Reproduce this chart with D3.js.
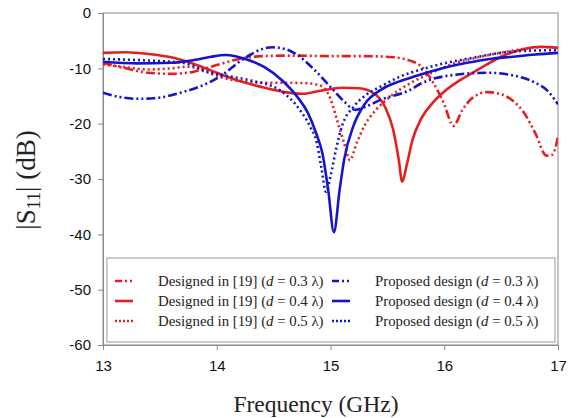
<!DOCTYPE html>
<html><head><meta charset="utf-8">
<script src="https://cdn.jsdelivr.net/npm/d3@7"></script>
<style>body{margin:0;background:#fff;} svg{display:block;}</style>
</head><body><svg id="c" width="576" height="418"></svg>
<script>
// ---- data ----
const xTicks = [13, 14, 15, 16, 17];
const yTicks = [0, -10, -20, -30, -40, -50, -60];

const ref03F = [13.0,13.2,13.4,13.6,13.8,14.0,14.2,14.4,14.7,15.0,15.3,15.55,15.7,15.8,15.9,16.0,16.08,16.16,16.25,16.38,16.5,16.6,16.7,16.8,16.9,16.95,17.0];
const ref03S = [-9.0,-10.0,-10.8,-11.0,-10.6,-9.4,-8.3,-7.8,-7.7,-7.8,-7.8,-8.0,-8.6,-9.7,-12.5,-16.5,-20.4,-17.5,-15.3,-14.3,-14.7,-15.8,-18.0,-21.7,-25.8,-25.6,-22.4];

const ref04F = [13.0,13.2,13.4,13.6,13.8,14.0,14.2,14.4,14.6,14.75,14.9,15.1,15.25,15.38,15.48,15.55,15.6,15.63,15.67,15.72,15.8,15.9,16.0,16.15,16.3,16.5,16.7,16.85,17.0];
const ref04S = [-7.2,-7.1,-7.4,-8.0,-9.2,-10.8,-12.3,-13.4,-14.3,-14.6,-14.1,-13.5,-13.6,-14.5,-17.0,-21.0,-26.5,-30.5,-27.5,-23.0,-19.0,-16.2,-14.2,-12.0,-10.2,-7.9,-6.5,-6.1,-6.3];

const ref05F = [13.0,13.2,13.4,13.6,13.75,13.9,14.05,14.2,14.4,14.6,14.8,14.92,15.0,15.06,15.12,15.17,15.23,15.3,15.4,15.52,15.7,15.9,16.1,16.3,16.6,16.85,17.0];
const ref05S = [-9.3,-9.8,-10.2,-10.0,-9.7,-10.6,-11.7,-12.3,-12.6,-12.6,-12.7,-13.2,-15.5,-19.5,-23.5,-26.6,-23.5,-20.3,-17.5,-15.2,-12.7,-10.7,-9.0,-8.0,-6.8,-6.2,-6.3];

const pro03F = [13.0,13.15,13.3,13.45,13.7,13.85,14.05,14.2,14.3,14.4,14.49,14.6,14.71,14.86,15.01,15.12,15.22,15.3,15.44,15.7,15.8,16.08,16.38,16.67,16.8,16.9,17.0];
const pro03S = [-14.4,-15.2,-15.5,-15.4,-14.3,-13.3,-11.2,-8.8,-7.5,-6.5,-6.2,-6.5,-7.6,-10.3,-13.6,-16.0,-17.5,-17.0,-15.7,-13.9,-12.7,-11.2,-10.8,-11.6,-12.6,-13.9,-16.5];

const pro04F = [13.0,13.3,13.6,13.8,13.95,14.08,14.25,14.42,14.57,14.71,14.8,14.87,14.93,14.98,15.03,15.08,15.12,15.2,15.3,15.45,15.6,15.75,16.0,16.2,16.4,16.6,16.8,17.0];
const pro04S = [-8.8,-9.1,-9.0,-8.5,-7.9,-7.6,-8.3,-9.8,-12.1,-15.2,-18.0,-21.5,-25.5,-32.0,-39.6,-32.0,-26.5,-20.5,-16.5,-13.8,-12.4,-11.4,-9.9,-9.0,-8.3,-7.9,-7.5,-7.2];

const pro05F = [13.0,13.3,13.5,13.7,13.95,14.1,14.3,14.55,14.73,14.82,14.88,14.92,14.96,15.0,15.05,15.1,15.2,15.3,15.45,15.6,15.8,16.0,16.25,16.5,16.75,17.0];
const pro05S = [-8.3,-8.5,-8.7,-9.0,-10.8,-11.4,-12.2,-13.9,-17.5,-20.5,-23.5,-28.0,-32.3,-29.5,-24.5,-20.5,-17.0,-15.0,-13.2,-11.6,-10.2,-9.1,-8.1,-7.2,-6.8,-6.7];

const seriesNames = ["Designed in [19] (", "Designed in [19] (", "Designed in [19] (", "Proposed design (", "Proposed design (", "Proposed design ("];
const seriesD = ["0.3", "0.4", "0.5", "0.3", "0.4", "0.5"];
const seriesColor = ["#e3201f", "#e3201f", "#e3201f", "#1414cc", "#1414cc", "#1414cc"];
const seriesF = [ref03F, ref04F, ref05F, pro03F, pro04F, pro05F];
const seriesS = [ref03S, ref04S, ref05S, pro03S, pro04S, pro05S];

// ---- styles ----
const dashFor = ["9,3,2,3,2,3", null, "2,3", "9,3,2,3,2,3", null, "2,3"];

const svg = d3.select("#c");
const L = 103, R = 558, T = 13, B = 345;
const x = d3.scaleLinear().domain([13, 17]).range([L, R]);
const y = d3.scaleLinear().domain([-60, 0]).range([B, T]);
const grey = "#8a8a8a";

svg.append("defs").append("clipPath").attr("id", "clip")
  .append("rect").attr("x", L).attr("y", T).attr("width", R - L).attr("height", B - T);

// frame
svg.append("rect").attr("x", L).attr("y", T).attr("width", R - L).attr("height", B - T)
  .attr("fill", "none").attr("stroke", grey).attr("stroke-width", 1);

const yAx = svg.append("g").attr("transform", `translate(${L},0)`)
  .call(d3.axisLeft(y).tickValues(yTicks).tickSize(5).tickPadding(7).tickFormat(d => String(d)));
const xAx = svg.append("g").attr("transform", `translate(0,${B})`)
  .call(d3.axisBottom(x).tickValues(xTicks).tickSize(5).tickPadding(10).tickFormat(d => String(d)));
[yAx, xAx].forEach(g => {
  g.selectAll("path,line").attr("stroke", grey);
  g.selectAll("text").attr("font-family", "'Liberation Sans', Arial, sans-serif")
    .attr("font-size", 15).attr("fill", "#111");
});

// legend box
const lg = svg.append("g");
lg.append("rect").attr("x", 107).attr("y", 258).attr("width", 448).attr("height", 84)
  .attr("fill", "#fff").attr("stroke", "#9a9a9a").attr("stroke-width", 1);

// curves
const line = d3.line().x(d => x(d[0])).y(d => y(d[1])).curve(d3.curveMonotoneX);
const plot = svg.append("g").attr("clip-path", "url(#clip)");
seriesF.forEach((F, i) => {
  const pts = F.map((f, j) => [f, seriesS[i][j]]);
  const p = plot.append("path").datum(pts).attr("d", line)
    .attr("fill", "none").attr("stroke", seriesColor[i]).attr("stroke-width", 2.6);
  if (dashFor[i]) p.attr("stroke-dasharray", dashFor[i]);
});

// legend entries
const rowY = [281, 301, 321];
seriesF.forEach((F, i) => {
  const col = i < 3 ? 0 : 1;
  const r = i % 3;
  const sx = col === 0 ? 115 : 332;
  const tx = col === 0 ? 158 : 375;
  const l = lg.append("line").attr("x1", sx).attr("x2", sx + 18).attr("y1", rowY[r]).attr("y2", rowY[r])
    .attr("stroke", seriesColor[i]).attr("stroke-width", 2.6);
  if (dashFor[i]) l.attr("stroke-dasharray", dashFor[i] === "2,3" ? "2,2" : "7,3,2,3,2,3");
  const t = lg.append("text").attr("x", tx).attr("y", rowY[r] + 5)
    .attr("font-family", "'Liberation Serif', 'Times New Roman', serif").attr("font-size", 14.8).attr("fill", "#222");
  t.append("tspan").text(seriesNames[i]);
  t.append("tspan").attr("font-style", "italic").text("d");
  t.append("tspan").text(" = " + seriesD[i] + " λ)");
});

// axis titles
svg.append("text").attr("x", 316).attr("y", 412).attr("text-anchor", "middle")
  .attr("font-family", "'Liberation Serif', 'Times New Roman', serif").attr("font-size", 23.5).attr("fill", "#222")
  .text("Frequency (GHz)");
const yt = svg.append("text").attr("transform", "translate(35,180) rotate(-90)").attr("text-anchor", "middle")
  .attr("font-family", "'Liberation Serif', 'Times New Roman', serif").attr("font-size", 27).attr("fill", "#222");
yt.append("tspan").text("|S");
yt.append("tspan").attr("font-size", 18).attr("dy", 5).text("11");
yt.append("tspan").attr("dy", -5).text("| (dB)");
</script></body></html>
